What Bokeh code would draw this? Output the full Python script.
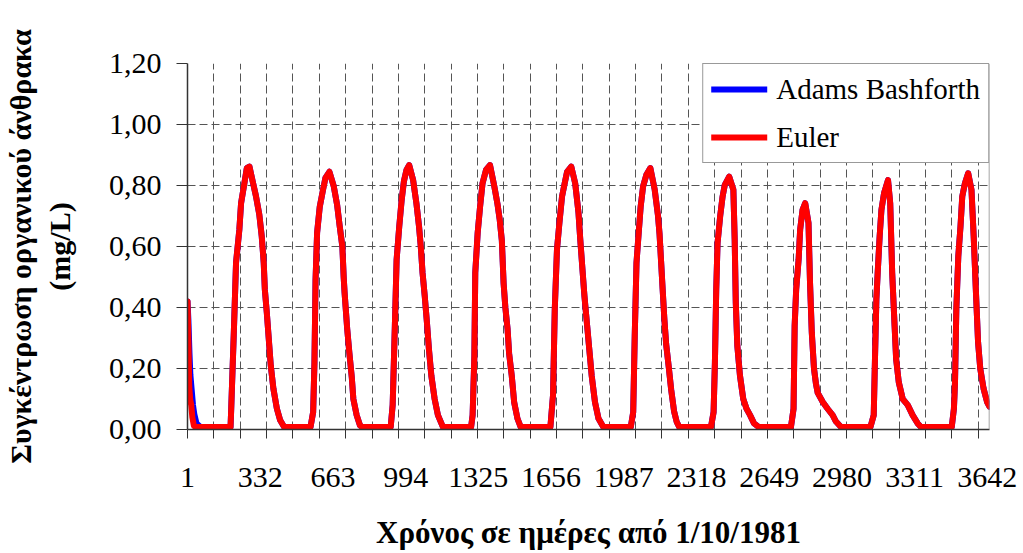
from bokeh.plotting import figure
from bokeh.models import (FixedTicker, Span, Legend, LegendItem, Range1d,
                          CustomJSTickFormatter, LinearAxis)
from bokeh.embed import file_html
from bokeh.resources import INLINE

# ---------------- data ----------------
# Euler series: (day, concentration mg/L) keypoints
euler_days = [
    1, 5, 9, 13, 18, 23, 30, 40,
    197, 200, 212, 222, 237, 245, 260, 271, 283, 298, 313, 328, 339, 348, 353, 362, 371, 380, 392, 408, 423, 441,
    561, 573, 579, 584, 591, 603, 618, 629, 647, 667, 682, 694, 706, 712, 716, 721, 728, 738, 749, 756, 771, 786, 795,
    926, 935, 945, 953, 965, 976, 986, 998, 1010, 1028, 1043, 1055, 1063, 1071, 1081, 1091, 1100, 1111, 1126, 1141, 1164,
    1292, 1299, 1307, 1311, 1322, 1333, 1344, 1360, 1378, 1397, 1412, 1422, 1432, 1436, 1440, 1448, 1458, 1465, 1477, 1488, 1503, 1518,
    1653, 1665, 1673, 1683, 1694, 1706, 1718, 1729, 1748, 1766, 1781, 1789, 1799, 1808, 1819, 1830, 1841, 1856, 1872, 1894,
    2019, 2030, 2037, 2045, 2055, 2064, 2075, 2090, 2108, 2128, 2143, 2150, 2157, 2164, 2172, 2180, 2191, 2203, 2216, 2228, 2240,
    2384, 2396, 2402, 2408, 2414, 2426, 2437, 2447, 2467, 2486, 2492, 2497, 2504, 2516, 2531, 2546, 2562, 2580, 2602,
    2748, 2760, 2765, 2772, 2783, 2790, 2801, 2813, 2828, 2835, 2843, 2853, 2862, 2870, 2893, 2915, 2938, 2953, 2976,
    3110, 3125, 3131, 3137, 3143, 3152, 3160, 3172, 3190, 3200, 3209, 3220, 3227, 3239, 3257, 3280, 3302, 3325, 3340,
    3480, 3490, 3495, 3501, 3510, 3520, 3528, 3540, 3555, 3570, 3580, 3591, 3600, 3610, 3625, 3641, 3652,
]
euler_vals = [
    0.42, 0.30, 0.14, 0.10, 0.08, 0.04, 0.012, 0.008,
    0.008, 0.068, 0.32, 0.547, 0.655, 0.743, 0.807, 0.857, 0.862, 0.813, 0.764, 0.704, 0.633, 0.547, 0.46, 0.384, 0.297, 0.21, 0.134, 0.068, 0.03, 0.008,
    0.008, 0.057, 0.22, 0.49, 0.645, 0.73, 0.786, 0.825, 0.845, 0.797, 0.737, 0.666, 0.60, 0.50, 0.45, 0.40, 0.33, 0.25, 0.17, 0.10, 0.047, 0.014, 0.008,
    0.008, 0.08, 0.34, 0.557, 0.666, 0.753, 0.813, 0.851, 0.867, 0.818, 0.742, 0.666, 0.60, 0.514, 0.438, 0.351, 0.264, 0.177, 0.10, 0.047, 0.008,
    0.008, 0.047, 0.242, 0.514, 0.645, 0.731, 0.807, 0.851, 0.867, 0.80, 0.74, 0.69, 0.62, 0.55, 0.48, 0.40, 0.33, 0.25, 0.177, 0.09, 0.036, 0.008,
    0.008, 0.112, 0.395, 0.59, 0.677, 0.764, 0.807, 0.845, 0.862, 0.807, 0.71, 0.623, 0.525, 0.438, 0.351, 0.264, 0.177, 0.09, 0.036, 0.008,
    0.008, 0.057, 0.307, 0.547, 0.645, 0.731, 0.797, 0.835, 0.857, 0.786, 0.70, 0.64, 0.55, 0.46, 0.36, 0.28, 0.21, 0.13, 0.06, 0.025, 0.008,
    0.008, 0.057, 0.22, 0.46, 0.612, 0.70, 0.764, 0.802, 0.829, 0.786, 0.623, 0.416, 0.275, 0.177, 0.10, 0.068, 0.047, 0.02, 0.008,
    0.008, 0.068, 0.34, 0.46, 0.557, 0.655, 0.72, 0.742, 0.677, 0.48, 0.318, 0.20, 0.15, 0.12, 0.09, 0.068, 0.047, 0.026, 0.008,
    0.008, 0.047, 0.242, 0.427, 0.514, 0.634, 0.72, 0.775, 0.818, 0.742, 0.514, 0.34, 0.231, 0.155, 0.10, 0.08, 0.047, 0.02, 0.008,
    0.008, 0.068, 0.155, 0.395, 0.568, 0.666, 0.764, 0.807, 0.84, 0.786, 0.634, 0.438, 0.286, 0.199, 0.134, 0.09, 0.075,
]

# Adams Bashforth: differs visibly only in the first decay, elsewhere it lies under Euler
ab_start_days = [1, 5, 10, 14, 20, 26, 32, 42, 60]
ab_start_vals = [0.42, 0.36, 0.25, 0.18, 0.13, 0.08, 0.05, 0.02, 0.008]
ab_days = ab_start_days + [d for d in euler_days if d > 60]
ab_vals = ab_start_vals + [v for d, v in zip(euler_days, euler_vals) if d > 60]

x_label_days = [1, 332, 663, 994, 1325, 1656, 1987, 2318, 2649, 2980, 3311, 3642]
x_labels = ["1", "332", "663", "994", "1325", "1656", "1987", "2318", "2649", "2980", "3311", "3642"]
x_mark_days = list(range(1, 3653, 120))
y_ticks = [0.0, 0.2, 0.4, 0.6, 0.8, 1.0, 1.2]
y_labels = ["0,00", "0,20", "0,40", "0,60", "0,80", "1,00", "1,20"]

series_names = ["Adams Bashforth", "Euler"]
y_title_1 = "Συγκέντρωση οργανικού άνθρακα"
y_title_2 = "(mg/L)"
x_title = "Χρόνος σε ημέρες από 1/10/1981"

FONT = "'Liberation Serif'"
AX = "#333333"
GRID = "#555555"

p = figure(width=1020, height=552, output_backend="svg", toolbar_location=None,
           x_range=Range1d(1, 3652), y_range=Range1d(0, 1.2),
           min_border_left=181, min_border_right=31, min_border_top=63, min_border_bottom=121)
p.outline_line_color = None
p.background_fill_color = "white"
p.border_fill_color = "white"

fmt_js = """
let best = -1, bd = 1e9;
for (let i = 0; i < tvals.length; i++) { const d = Math.abs(tvals[i] - tick); if (d < bd) { bd = d; best = i; } }
return (bd < 1e-6) ? tlabels[best] : '';
"""

xa = p.xaxis[0]
xa.ticker = FixedTicker(ticks=x_label_days, minor_ticks=x_mark_days)
xa.formatter = CustomJSTickFormatter(args=dict(tvals=x_label_days, tlabels=x_labels), code=fmt_js)
xa.major_tick_out = 0
xa.major_tick_in = 0
xa.minor_tick_out = 9
xa.minor_tick_in = 0
xa.minor_tick_line_color = AX
xa.axis_line_color = AX
xa.axis_line_width = 1.5
xa.major_label_text_font = FONT
xa.major_label_text_font_size = "30px"
xa.major_label_text_color = "black"
xa.major_label_standoff = 29
xa.axis_label = x_title
xa.axis_label_text_font = FONT
xa.axis_label_text_font_style = "bold"
xa.axis_label_text_font_size = "31px"
xa.axis_label_text_color = "black"
xa.axis_label_standoff = 25

ya = p.yaxis[0]
ya.ticker = FixedTicker(ticks=y_ticks)
ya.formatter = CustomJSTickFormatter(args=dict(tvals=y_ticks, tlabels=y_labels), code=fmt_js)
ya.major_tick_out = 11
ya.major_tick_in = 0
ya.minor_tick_out = 0
ya.minor_tick_in = 0
ya.major_tick_line_color = AX
ya.axis_line_color = AX
ya.axis_line_width = 1.5
ya.major_label_text_font = FONT
ya.major_label_text_font_size = "30px"
ya.major_label_text_color = "black"
ya.major_label_standoff = 15
ya.axis_label = y_title_2
ya.axis_label_text_font = FONT
ya.axis_label_text_font_style = "bold"
ya.axis_label_text_font_size = "30px"
ya.axis_label_text_color = "black"
ya.axis_label_standoff = 30

outer = LinearAxis(ticker=FixedTicker(ticks=[]))
outer.axis_label = y_title_1
outer.axis_line_color = None
outer.major_tick_out = 0
outer.major_tick_in = 0
outer.minor_tick_out = 0
outer.minor_tick_in = 0
outer.axis_label_text_font = FONT
outer.axis_label_text_font_style = "bold"
outer.axis_label_text_font_size = "30px"
outer.axis_label_text_color = "black"
outer.axis_label_standoff = 3
p.add_layout(outer, "left")

p.xgrid.ticker = FixedTicker(ticks=x_mark_days[1:])
p.ygrid.ticker = FixedTicker(ticks=y_ticks[1:])
for g in (p.xgrid[0], p.ygrid[0]):
    g.grid_line_color = GRID
    g.grid_line_dash = "8 4"
    g.grid_line_width = 1

p.add_layout(Span(location=3652, dimension="height", line_color="#888888", line_width=1.5))

blue = p.line(ab_days, ab_vals, line_color="#0000FF", line_width=6,
              line_join="round", line_cap="round")
red = p.line(euler_days, euler_vals, line_color="#FF0000", line_width=6,
             line_join="round", line_cap="round")

legend = Legend(items=[LegendItem(label=series_names[0], renderers=[blue]),
                       LegendItem(label=series_names[1], renderers=[red])])
legend.location = "top_right"
legend.margin = 0
legend.padding = 8
legend.spacing = 14
legend.glyph_width = 56
legend.glyph_height = 34
legend.label_height = 34
legend.label_standoff = 9
legend.label_text_font = FONT
legend.label_text_font_size = "29px"
legend.label_text_color = "black"
legend.border_line_color = AX
legend.border_line_width = 1.2
legend.background_fill_color = "white"
legend.background_fill_alpha = 1
p.add_layout(legend)

open("out.html", "w").write(file_html(p, INLINE))
